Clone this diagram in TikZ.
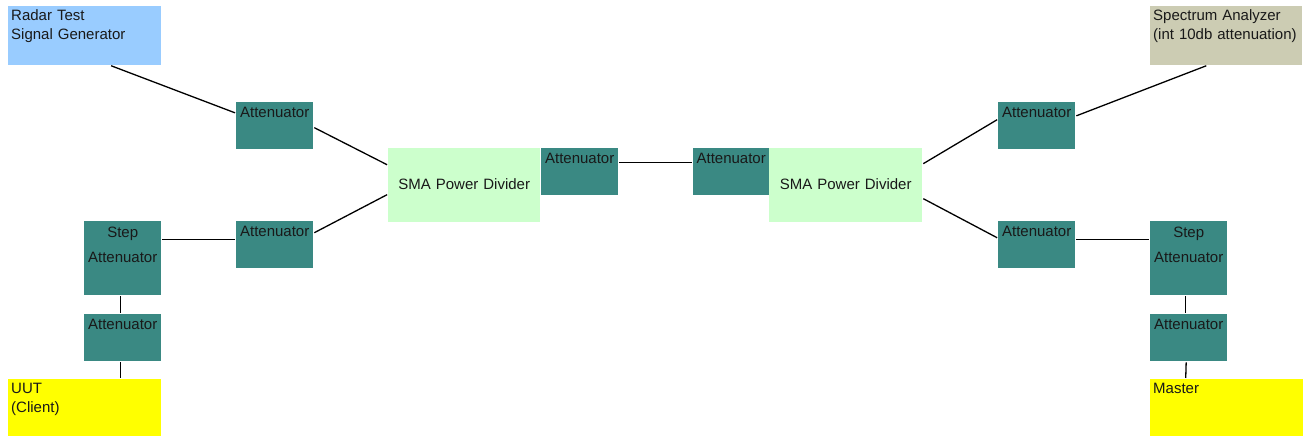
\documentclass[tikz,border=0pt]{standalone}
\usepackage{fontspec}
\setmainfont{Liberation Sans}
\usetikzlibrary{positioning}
\definecolor{attcol}{RGB}{58,137,131}
\definecolor{gencol}{RGB}{153,204,255}
\definecolor{divcol}{RGB}{204,255,204}
\definecolor{sacol}{RGB}{204,204,179}
\definecolor{uutcol}{RGB}{255,255,0}
\begin{document}
\begin{tikzpicture}[x=1pt,y=-1pt,
  every node/.style={font=\fontsize{15}{19}\selectfont, text=black!90, anchor=north west, inner sep=0pt},
  att/.style={fill=attcol, text width=77pt, align=center, text height=15pt, text depth=32pt},
  stp/.style={fill=attcol, text width=77pt, align=center, text height=16pt, text depth=58pt},
  dev/.style={inner xsep=3pt, text width=#1, align=left, text height=14pt},
  div/.style={fill=divcol, text width=#1, align=center, text height=41pt, text depth=33pt},
  con/.style={draw, line width=1.3pt, shorten <=1pt, shorten >=1pt}]
  \useasboundingbox (0,0) rectangle (1307,436);
  \node[dev=147pt, fill=gencol, text depth=45pt] (gen) at (8,6) {Radar Test\\Signal Generator};
  \node[dev=146pt, fill=sacol, text depth=45pt] (sa) at (1150,6) {Spectrum Analyzer\\(int 10db attenuation)};
  \node[att] (att1) at (236,102) {Attenuator};
  \node[att] (att2) at (236,221) {Attenuator};
  \node[stp] (step1) at (84,221) {Step\\[6pt]Attenuator};
  \node[att] (att3) at (84,314) {Attenuator};
  \node[dev=147pt, fill=uutcol, text depth=43pt] (uut) at (8,379) {UUT\\(Client)};
  \node[div=152pt] (div1) at (388,148) {SMA Power Divider};
  \node[att] (att4) at (541,148) {Attenuator};
  \node[att, text width=76pt] (att5) at (693,148) {Attenuator};
  \node[div=153pt] (div2) at (769,148) {SMA Power Divider};
  \node[att] (att6) at (998,102) {Attenuator};
  \node[att] (att7) at (998,221) {Attenuator};
  \node[stp] (step2) at (1150,221) {Step\\[6pt]Attenuator};
  \node[att] (att8) at (1150,314) {Attenuator};
  \node[dev=147pt, fill=uutcol, text depth=43pt] (mst) at (1150,379) {Master};

  \draw[con] ([xshift=25.5pt]gen.south) -- ([yshift=12.5pt]att1.west);
  \draw[con] ([yshift=-1.5pt]att1.east) -- ([yshift=20pt]div1.west);
  \draw[con] ([yshift=11.5pt]att2.east) -- ([yshift=-9pt]div1.west);
  \draw[con] ([yshift=19pt]step1.east) -- ([yshift=5.5pt]att2.west);
  \draw[con] ([xshift=-2.5pt]step1.south) -- ([xshift=-2.5pt]att3.north);
  \draw[con] ([xshift=-2.5pt]att3.south) -- ([xshift=35.5pt]uut.north);
  \draw[con] ([yshift=9.5pt]att4.east) -- ([yshift=9.5pt]att5.west);
  \draw[con] ([yshift=21pt]div2.east) -- ([yshift=6.5pt]att6.west);
  \draw[con] ([yshift=9.5pt]att6.east) -- ([xshift=-19pt]sa.south);
  \draw[con] ([yshift=-13pt]div2.east) -- ([yshift=6.5pt]att7.west);
  \draw[con] ([yshift=5.5pt]att7.east) -- ([yshift=19pt]step2.west);
  \draw[con] ([xshift=-3.5pt]step2.south) -- ([xshift=-3.5pt]att8.north);
  \draw[con] ([xshift=-2.5pt]att8.south) -- ([xshift=-41pt]mst.north);
\end{tikzpicture}
\end{document}
